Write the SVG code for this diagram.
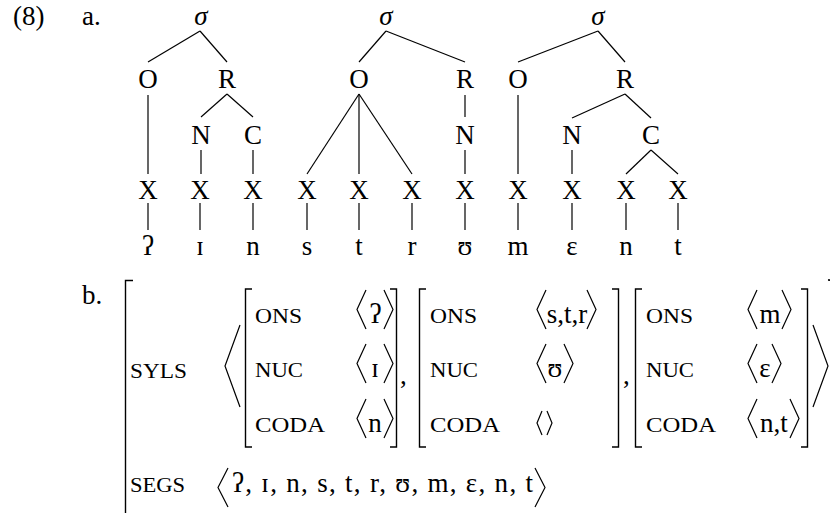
<svg xmlns="http://www.w3.org/2000/svg" width="830" height="513" viewBox="0 0 830 513">
<style>
text{font-family:"Liberation Serif","Times New Roman","DejaVu Serif",serif;fill:#000}
.n{font-size:27px;text-anchor:middle}
.s{font-style:italic}
.sc{font-size:20px}
.v{font-size:27px}
.ln{stroke:#000;stroke-width:1.2;fill:none}
.ab{stroke:#000;stroke-width:1.2;fill:none;stroke-linejoin:miter}
.br{stroke:#000;stroke-width:1.4;fill:none}
</style>
<rect width="830" height="513" fill="#fff"/>
<text x="13" y="25" class="v">(8)</text>
<text x="82" y="25" class="v">a.</text>

<g id="connectors" class="ln">
<line x1="200" y1="31" x2="148" y2="62"/>
<line x1="200" y1="31" x2="227" y2="62"/>
<line x1="148" y1="95" x2="148" y2="174"/>
<line x1="227" y1="94" x2="201" y2="117"/>
<line x1="227" y1="94" x2="253" y2="117"/>
<line x1="201" y1="150" x2="201" y2="174"/>
<line x1="253" y1="150" x2="253" y2="174"/>
<line x1="386" y1="31" x2="359" y2="62"/>
<line x1="386" y1="31" x2="465" y2="62"/>
<line x1="359" y1="94" x2="307" y2="174"/>
<line x1="359" y1="94" x2="359" y2="174"/>
<line x1="359" y1="94" x2="412" y2="174"/>
<line x1="465" y1="95" x2="465" y2="117"/>
<line x1="465" y1="150" x2="465" y2="174"/>
<line x1="598" y1="31" x2="518" y2="62"/>
<line x1="598" y1="31" x2="625" y2="62"/>
<line x1="518" y1="95" x2="518" y2="174"/>
<line x1="625" y1="94" x2="572" y2="118"/>
<line x1="625" y1="94" x2="651" y2="118"/>
<line x1="572" y1="150" x2="572" y2="174"/>
<line x1="651" y1="150" x2="626" y2="174"/>
<line x1="651" y1="150" x2="678" y2="174"/>
<line x1="148" y1="203" x2="148" y2="230"/>
<line x1="200" y1="203" x2="200" y2="230"/>
<line x1="253" y1="203" x2="253" y2="230"/>
<line x1="307" y1="203" x2="307" y2="230"/>
<line x1="359" y1="203" x2="359" y2="230"/>
<line x1="412" y1="203" x2="412" y2="230"/>
<line x1="465" y1="203" x2="465" y2="230"/>
<line x1="518" y1="203" x2="518" y2="230"/>
<line x1="572" y1="203" x2="572" y2="230"/>
<line x1="626" y1="203" x2="626" y2="230"/>
<line x1="678" y1="203" x2="678" y2="230"/>
</g>

<g id="sigma1"><text x="201" y="25" class="n s">σ</text></g>
<g id="O1"><text x="148" y="88" class="n">O</text></g>
<g id="R1"><text x="227" y="88" class="n">R</text></g>
<g id="N1"><text x="201" y="144" class="n">N</text></g>
<g id="C1"><text x="253" y="144" class="n">C</text></g>
<g id="sigma2"><text x="386" y="25" class="n s">σ</text></g>
<g id="O2"><text x="359" y="88" class="n">O</text></g>
<g id="R2"><text x="465" y="88" class="n">R</text></g>
<g id="N2"><text x="465" y="144" class="n">N</text></g>
<g id="sigma3"><text x="598" y="25" class="n s">σ</text></g>
<g id="O3"><text x="518" y="88" class="n">O</text></g>
<g id="R3"><text x="625" y="88" class="n">R</text></g>
<g id="N3"><text x="572" y="144" class="n">N</text></g>
<g id="C3"><text x="651" y="144" class="n">C</text></g>

<g id="X1"><text x="148" y="199" class="n">X</text></g>
<g id="X2"><text x="200" y="199" class="n">X</text></g>
<g id="X3"><text x="253" y="199" class="n">X</text></g>
<g id="X4"><text x="307" y="199" class="n">X</text></g>
<g id="X5"><text x="359" y="199" class="n">X</text></g>
<g id="X6"><text x="412" y="199" class="n">X</text></g>
<g id="X7"><text x="465" y="199" class="n">X</text></g>
<g id="X8"><text x="518" y="199" class="n">X</text></g>
<g id="X9"><text x="572" y="199" class="n">X</text></g>
<g id="X10"><text x="626" y="199" class="n">X</text></g>
<g id="X11"><text x="678" y="199" class="n">X</text></g>

<g id="seg1"><text x="148" y="255" class="n">ʔ</text></g>
<g id="seg2"><text x="200" y="255" class="n">ɪ</text></g>
<g id="seg3"><text x="253" y="255" class="n">n</text></g>
<g id="seg4"><text x="307" y="255" class="n">s</text></g>
<g id="seg5"><text x="359" y="255" class="n">t</text></g>
<g id="seg6"><text x="412" y="255" class="n">r</text></g>
<g id="seg7"><text x="465" y="255" class="n">ʊ</text></g>
<g id="seg8"><text x="518" y="255" class="n">m</text></g>
<g id="seg9"><text x="572" y="255" class="n">ɛ</text></g>
<g id="seg10"><text x="626" y="255" class="n">n</text></g>
<g id="seg11"><text x="678" y="255" class="n">t</text></g>

<g id="partb">
<text x="82" y="304" class="v">b.</text>
<circle cx="829" cy="280" r="1.1" fill="#000"/>
<path class="br" d="M133,280.5 H125.5 V520"/>
<text x="130" y="378" class="sc" textLength="57" lengthAdjust="spacingAndGlyphs">SYLS</text>
<polyline class="ab" points="240,325 225,366 240,407"/>
<polyline class="ab" points="813,325 828,366 813,407"/>

<g id="avm1">
<path class="br" d="M252,289 H245.5 V447 H252"/>
<path class="br" d="M390,289 H396.5 V447 H390"/>
<text x="255" y="323" class="sc" textLength="47" lengthAdjust="spacingAndGlyphs">ONS</text>
<text x="255" y="377" class="sc" textLength="48" lengthAdjust="spacingAndGlyphs">NUC</text>
<text x="255" y="432" class="sc" textLength="70" lengthAdjust="spacingAndGlyphs">CODA</text>
<polyline class="ab" points="366,290 357,309.5 366,329"/>
<text x="375.5" y="323" class="n">ʔ</text>
<polyline class="ab" points="384,290 393,309.5 384,329"/>
<polyline class="ab" points="366,344 357,363.5 366,383"/>
<text x="375" y="377" class="n">ɪ</text>
<polyline class="ab" points="384,344 393,363.5 384,383"/>
<polyline class="ab" points="366,399 357,418.5 366,438"/>
<text x="375" y="432" class="n">n</text>
<polyline class="ab" points="384,399 393,418.5 384,438"/>
</g>
<text x="400" y="384" class="v">,</text>

<g id="avm2">
<path class="br" d="M426,289 H419.5 V447 H426"/>
<path class="br" d="M612,289 H618.5 V447 H612"/>
<text x="430" y="323" class="sc" textLength="47" lengthAdjust="spacingAndGlyphs">ONS</text>
<text x="430" y="377" class="sc" textLength="48" lengthAdjust="spacingAndGlyphs">NUC</text>
<text x="430" y="432" class="sc" textLength="70" lengthAdjust="spacingAndGlyphs">CODA</text>
<polyline class="ab" points="546,290 537,309.5 546,329"/>
<text x="567" y="323" class="n">s,t,r</text>
<polyline class="ab" points="587,290 596,309.5 587,329"/>
<polyline class="ab" points="546,344 537,363.5 546,383"/>
<text x="555" y="377" class="n">ʊ</text>
<polyline class="ab" points="564,344 573,363.5 564,383"/>
<polyline class="ab" points="542,411 537,423 542,435"/>
<polyline class="ab" points="547,411 552,423 547,435"/>
</g>
<text x="623" y="384" class="v">,</text>

<g id="avm3">
<path class="br" d="M642,289 H635.5 V447 H642"/>
<path class="br" d="M801,289 H807.5 V447 H801"/>
<text x="646" y="323" class="sc" textLength="47" lengthAdjust="spacingAndGlyphs">ONS</text>
<text x="646" y="377" class="sc" textLength="48" lengthAdjust="spacingAndGlyphs">NUC</text>
<text x="646" y="432" class="sc" textLength="70" lengthAdjust="spacingAndGlyphs">CODA</text>
<polyline class="ab" points="757,290 748,309.5 757,329"/>
<text x="770" y="323" class="n">m</text>
<polyline class="ab" points="782,290 791,309.5 782,329"/>
<polyline class="ab" points="757,344 748,363.5 757,383"/>
<text x="765" y="377" class="n">ɛ</text>
<polyline class="ab" points="772,344 781,363.5 772,383"/>
<polyline class="ab" points="757,399 748,418.5 757,438"/>
<text x="774" y="432" class="n">n,t</text>
<polyline class="ab" points="790,399 799,418.5 790,438"/>
</g>

<g id="segs">
<text x="130" y="492" class="sc" textLength="55" lengthAdjust="spacingAndGlyphs">SEGS</text>
<polyline class="ab" points="228,468 218,487.5 228,507"/>
<text x="232" y="492" class="v" textLength="301" lengthAdjust="spacing">ʔ, ɪ, n, s, t, r, ʊ, m, ɛ, n, t</text>
<polyline class="ab" points="535,468 545,487.5 535,507"/>
</g>
</g>
</svg>
